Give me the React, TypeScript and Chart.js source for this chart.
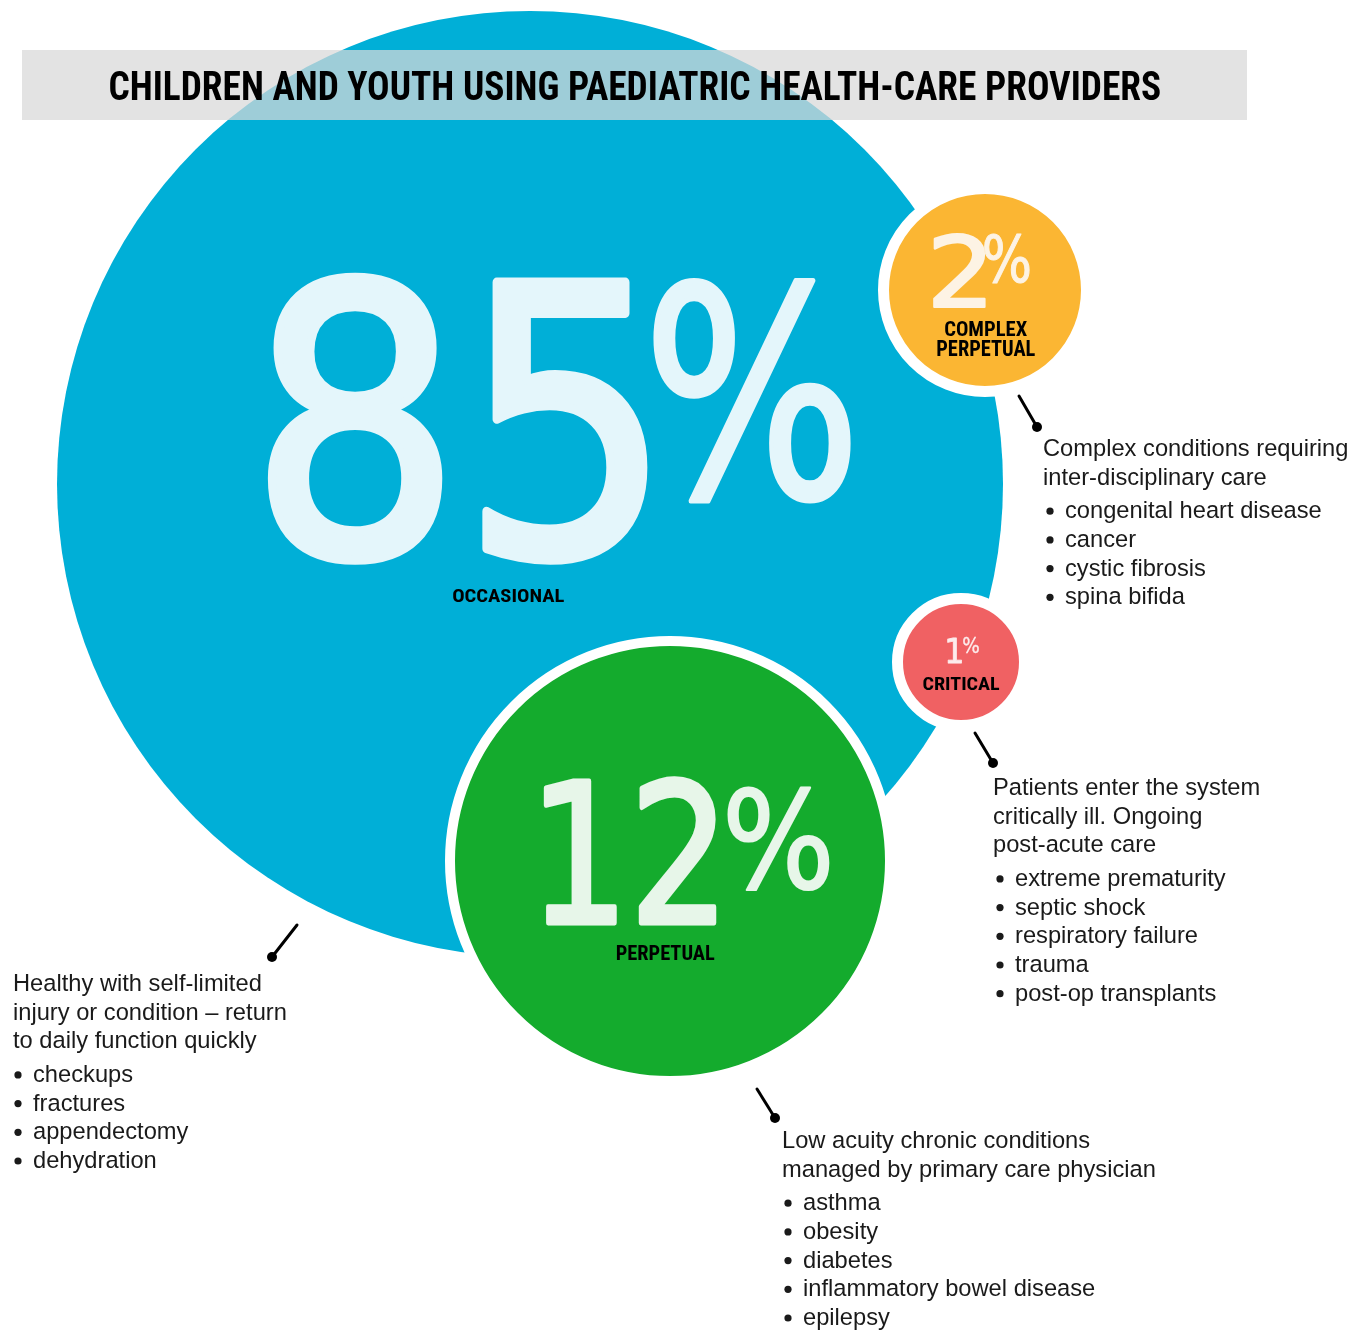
import React, { useEffect, useRef } from 'react';
import { Chart, registerables } from 'chart.js';

Chart.register(...registerables);

const W = 1364;
const H = 1330;

// ---- data ----
const title = 'CHILDREN AND YOUTH USING PAEDIATRIC HEALTH-CARE PROVIDERS';
const categories = ['OCCASIONAL', 'PERPETUAL', 'COMPLEX PERPETUAL', 'CRITICAL'];
const percentages = [85, 12, 2, 1];
const bubbleX = [530, 670, 985, 961];
const bubbleY = [484, 861, 290, 662];
const bubbleR = [473, 220, 101.5, 63.5];

const descOccasional = ['Healthy with self-limited', 'injury or condition \u2013 return', 'to daily function quickly'];
const itemsOccasional = ['checkups', 'fractures', 'appendectomy', 'dehydration'];
const descPerpetual = ['Low acuity chronic conditions', 'managed by primary care physician'];
const itemsPerpetual = ['asthma', 'obesity', 'diabetes', 'inflammatory bowel disease', 'epilepsy'];
const descComplex = ['Complex conditions requiring', 'inter-disciplinary care'];
const itemsComplex = ['congenital heart disease', 'cancer', 'cystic fibrosis', 'spina bifida'];
const descCritical = ['Patients enter the system', 'critically ill. Ongoing', 'post-acute care'];
const itemsCritical = ['extreme prematurity', 'septic shock', 'respiratory failure', 'trauma', 'post-op transplants'];

// ---- styles ----
const fillColors = ['#00afd7', '#14ab2d', '#fbb633', '#f06163'];
const ringWidths = [0, 10, 11, 11];
const numberColor = 'rgba(255,255,255,0.9)';
const textColor = '#1a1a1a';
const condensedBold = 'bold 100px "Liberation Sans Narrow", "Roboto Condensed", "Liberation Sans", Arial, sans-serif';
const numberFont = '100px "DejaVu Sans", "Liberation Sans", sans-serif';
const bodyFont = '23.7px "Liberation Sans", Arial, sans-serif';

// layout: ink boxes relative to each bubble centre [dx, dy, w, h]
const numberBoxes = [
  [265 - 530, 270 - 484, 383, 293],
  [542 - 670, 775 - 861, 175, 150],
  [933 - 985, 232 - 290, 53, 76],
  [947 - 961, 637 - 662, 15, 26],
];
const percentBoxes = [
  [652 - 530, 276 - 484, 200, 226],
  [727 - 670, 785 - 861, 103, 105],
  [984 - 985, 234 - 290, 46, 49],
  [963 - 961, 637 - 662, 16, 16],
];
const labelBoxes: number[][][] = [
  [[453 - 530, 588 - 484, 111, 14]],
  [[616.7 - 670, 945 - 861, 97.7, 15]],
  [[945 - 985, 321.7 - 290, 82, 15], [937.3 - 985, 340.7 - 290, 97.7, 16]],
  [[923.3 - 961, 677.3 - 662, 76, 13.3]],
];
// annotation blocks: leader [x1,y1,x2,y2], text x, bullet x, bullet text x, first baseline
const blocks = [
  { lead: [297, 925, 272, 957], tx: 13, bx: 18, bt: 33, y0: 991, desc: descOccasional, items: itemsOccasional },
  { lead: [757, 1089, 775, 1118], tx: 782, bx: 788, bt: 803, y0: 1148, desc: descPerpetual, items: itemsPerpetual },
  { lead: [1019, 396, 1037, 427], tx: 1043, bx: 1050, bt: 1065, y0: 456, desc: descComplex, items: itemsComplex },
  { lead: [975, 733, 993, 763], tx: 993, bx: 1000, bt: 1015, y0: 795, desc: descCritical, items: itemsCritical },
];

function fitText(
  ctx: CanvasRenderingContext2D, text: string, font: string,
  x: number, y: number, w: number, h: number, color: string, weight = 0,
) {
  ctx.save();
  ctx.font = font;
  ctx.textAlign = 'left';
  ctx.textBaseline = 'alphabetic';
  const m = ctx.measureText(text);
  const iw = m.actualBoundingBoxLeft + m.actualBoundingBoxRight;
  const ih = m.actualBoundingBoxAscent + m.actualBoundingBoxDescent;
  const sx = (w - weight) / iw;
  const sy = (h - weight) / ih;
  ctx.translate(x + weight / 2, y + weight / 2);
  ctx.scale(sx, sy);
  ctx.fillStyle = color;
  ctx.fillText(text, m.actualBoundingBoxLeft, m.actualBoundingBoxAscent);
  if (weight > 0) {
    ctx.strokeStyle = color;
    ctx.lineJoin = 'round';
    ctx.lineWidth = weight / ((sx + sy) / 2);
    // draw stroke once with opaque-equivalent composite to avoid double alpha
    ctx.globalCompositeOperation = 'source-over';
    ctx.strokeText(text, m.actualBoundingBoxLeft, m.actualBoundingBoxAscent);
  }
  ctx.restore();
}

const overlayPlugin = {
  id: 'overlay',
  afterDatasetsDraw(chart: any) {
    const ctx: CanvasRenderingContext2D = chart.ctx;
    const xs = chart.scales.x;
    const ys = chart.scales.y;

    // title band
    ctx.save();
    ctx.fillStyle = 'rgba(216,216,216,0.73)';
    ctx.fillRect(22, 50, 1225, 70);
    ctx.restore();
    fitText(ctx, title, condensedBold, 110, 70, 1050, 30, '#000');

    // numbers + labels
    percentages.forEach((p, i) => {
      const cx = xs.getPixelForValue(bubbleX[i]);
      const cy = ys.getPixelForValue(bubbleY[i]);
      const nb = numberBoxes[i];
      const pb = percentBoxes[i];
      // solid tint colour (no alpha) so fill + stroke do not double up
      const tint = ['#e4f6fb', '#e7f6e9', '#fdf3e4', '#fdecec'][i];
      fitText(ctx, String(p), numberFont, cx + nb[0], cy + nb[1], nb[2], nb[3], tint, nb[3] * 0.03);
      fitText(ctx, '%', numberFont, cx + pb[0], cy + pb[1], pb[2], pb[3], tint, pb[3] * 0.02);
      const words = i === 2 ? categories[i].split(' ') : [categories[i]];
      words.forEach((wd, k) => {
        const lb = labelBoxes[i][k];
        fitText(ctx, wd, condensedBold, cx + lb[0], cy + lb[1], lb[2], lb[3], '#000');
      });
    });

    // annotation blocks
    const lineH = 28.7;
    const gap = 33.5;
    blocks.forEach((b) => {
      ctx.save();
      ctx.strokeStyle = '#000';
      ctx.lineWidth = 3;
      ctx.lineCap = 'round';
      ctx.beginPath();
      ctx.moveTo(b.lead[0], b.lead[1]);
      ctx.lineTo(b.lead[2], b.lead[3]);
      ctx.stroke();
      ctx.fillStyle = '#000';
      ctx.beginPath();
      ctx.arc(b.lead[2], b.lead[3], 5, 0, Math.PI * 2);
      ctx.fill();

      ctx.font = bodyFont;
      ctx.fillStyle = textColor;
      ctx.textAlign = 'left';
      ctx.textBaseline = 'alphabetic';
      let y = b.y0;
      b.desc.forEach((line, k) => {
        if (k > 0) y += lineH;
        ctx.fillText(line, b.tx, y);
      });
      y += gap;
      b.items.forEach((it, k) => {
        if (k > 0) y += lineH;
        ctx.beginPath();
        ctx.arc(b.bx, y - 7, 3.6, 0, Math.PI * 2);
        ctx.fill();
        ctx.fillText(it, b.bt, y);
      });
      ctx.restore();
    });
  },
};

export default function App() {
  const ref = useRef<HTMLCanvasElement>(null);
  useEffect(() => {
    const canvas = ref.current;
    if (!canvas) return;
    const chart = new Chart(canvas, {
      type: 'bubble',
      data: {
        datasets: [
          {
            label: 'Share of children and youth (%)',
            data: categories.map((c, i) => ({ x: bubbleX[i], y: bubbleY[i], r: bubbleR[i] })),
            backgroundColor: fillColors,
            hoverBackgroundColor: fillColors,
            borderColor: '#ffffff',
            hoverBorderColor: '#ffffff',
            borderWidth: ringWidths,
            hoverBorderWidth: ringWidths,
            clip: false,
          } as any,
        ],
      },
      options: {
        responsive: false,
        animation: false,
        devicePixelRatio: 1,
        events: [],
        layout: { padding: 0, autoPadding: false },
        scales: {
          x: { type: 'linear', min: 0, max: W, display: false, offset: false },
          y: { type: 'linear', min: 0, max: H, reverse: true, display: false, offset: false },
        },
        plugins: { legend: { display: false }, tooltip: { enabled: false }, title: { display: false } },
      } as any,
      plugins: [overlayPlugin],
    });
    return () => chart.destroy();
  }, []);
  return (
    <div style={{ position: 'absolute', left: 0, top: 0, width: W, height: H, background: '#fff' }}>
      <canvas ref={ref} width={W} height={H} style={{ display: 'block', width: W, height: H }} />
    </div>
  );
}
